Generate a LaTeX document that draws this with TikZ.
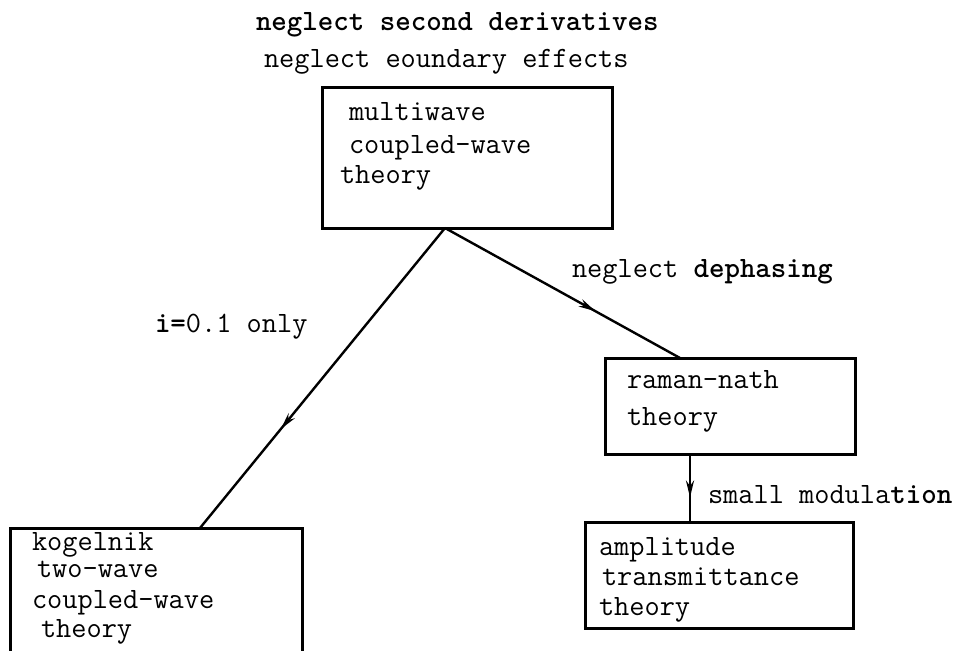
\documentclass[tikz,border=0pt]{standalone}
\usepackage{fontspec}
\usetikzlibrary{decorations.markings,arrows.meta,calc}
\begin{document}
\begin{tikzpicture}[x=1pt,y=-1pt,
  every node/.style={inner sep=0pt,outer sep=0pt},
  txt/.style={anchor=base west,font=\ttfamily\fontsize{29.5}{34}\selectfont},
  theorybox/.style={draw,line width=3pt,anchor=north west},
  flow/.style={line width=2.4pt,postaction={decorate},
    decoration={markings,mark=at position #1 with {\arrow{Stealth[length=17pt,width=8pt]}}}}
]
\useasboundingbox (0,0) rectangle (960,650);

% heading above the top box
\node[txt,font=\ttfamily\fontsize{29.5}{34}\selectfont\bfseries] (h1) at (256,31) {neglect second derivatives};
\node[txt] (h2) at (264,68) {neglect eoundary effects};

% boxes
\node[theorybox,minimum width=290pt,minimum height=140pt] (mw) at (322,88) {};
\node[theorybox,minimum width=250pt,minimum height=96pt] (rn) at (605,358) {};
\node[theorybox,minimum width=268pt,minimum height=106pt] (am) at (585,522) {};
\node[theorybox,minimum width=292pt,minimum height=125pt] (kg) at (10,528) {};

% box contents
\node[txt] (mw1) at (349,121) {multiwave};
\node[txt] (mw2) at (349,153) {coupled-wave};
\node[txt] (mw3) at (340,183) {theory};

\node[txt] (rn1) at (627,388) {raman-nath};
\node[txt] (rn2) at (627,425) {theory};

\node[txt] (am1) at (599,555) {amplitude};
\node[txt] (am2) at (602,585) {transmittance};
\node[txt] (am3) at (599,615) {theory};

\node[txt] (kg1) at (32,550) {kogelnik};
\node[txt] (kg2) at (37,577) {two-wave};
\node[txt] (kg3) at (32,608) {coupled-wave};
\node[txt] (kg4) at (41,637) {theory};

% connector labels
\node[txt] (lb1) at (155,332) {\textbf{i=}0.1 only};
\node[txt] (lb2) at (572,277) {neglect \textbf{dephasing}};
\node[txt] (lb3) at (708,503) {small modula\textbf{tion}};

% attachment points on the box edges
\coordinate (mwout) at ($(mw.south west)+(123,0)$);
\coordinate (kgin) at ($(kg.north west)+(190,0)$);
\coordinate (rnin) at ($(rn.north west)+(75,0)$);
\coordinate (rnout) at ($(rn.south west)+(85,0)$);
\coordinate (amin) at ($(am.north west)+(105,0)$);

% connectors
\draw[flow=0.67] (mwout) -- (kgin);
\draw[flow=0.64] (mwout) -- (rnin);
\draw[flow=0.64] (rnout) -- (amin);
\end{tikzpicture}
\end{document}
